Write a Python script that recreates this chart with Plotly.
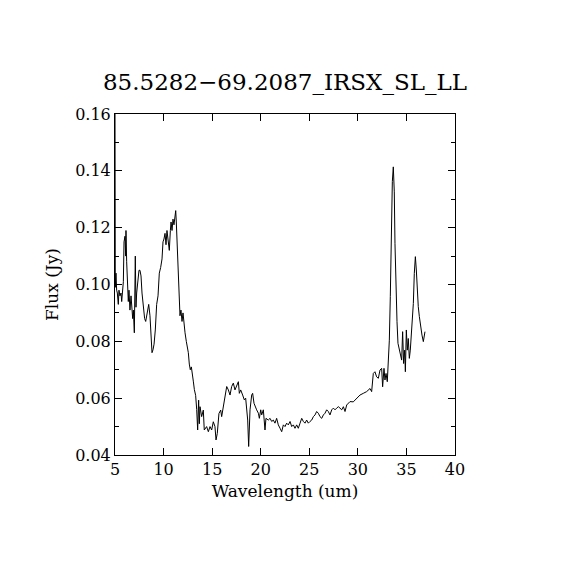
import plotly.graph_objects as go

wavelength = [
    5.00, 5.03, 5.07, 5.10, 5.17, 5.24, 5.34, 5.41, 5.51, 5.62, 5.69, 5.79, 5.86, 5.93,
    6.03, 6.10, 6.13, 6.20, 6.27, 6.37, 6.44, 6.54, 6.65, 6.72, 6.82, 6.89, 6.99, 7.09,
    7.16, 7.23, 7.33, 7.47, 7.57, 7.68, 7.78, 7.92, 8.05, 8.16, 8.26, 8.36, 8.47, 8.60,
    8.71, 8.81, 8.91, 9.02, 9.15, 9.29, 9.43, 9.56, 9.70, 9.84, 9.94, 10.04, 10.15, 10.25,
    10.35, 10.46, 10.59, 10.70, 10.77, 10.87, 10.97, 11.07, 11.18, 11.25, 11.31, 11.42,
    11.52, 11.59, 11.69, 11.79, 11.90, 12.00, 12.10, 12.21, 12.34, 12.45, 12.55, 12.65,
    12.75, 12.86, 12.96, 13.06, 13.17, 13.30, 13.41, 13.51, 13.61, 13.68, 13.75, 13.92,
    14.09, 14.19, 14.43, 14.61, 14.78, 14.95, 15.12, 15.29, 15.40, 15.53, 15.70, 15.88,
    15.98, 16.15, 16.32, 16.50, 16.67, 16.84, 17.01, 17.18, 17.35, 17.52, 17.70, 17.80,
    17.94, 18.14, 18.31, 18.45, 18.55, 18.66, 18.76, 18.90, 19.07, 19.17, 19.31, 19.45,
    19.58, 19.76, 19.86, 20.00, 20.10, 20.27, 20.44, 20.54, 20.78, 20.96, 21.13, 21.30,
    21.47, 21.64, 21.81, 21.99, 22.16, 22.33, 22.50, 22.67, 22.84, 23.02, 23.19, 23.36,
    23.53, 23.70, 23.87, 24.05, 24.22, 24.39, 24.56, 24.73, 24.90, 25.07, 25.25, 25.42,
    25.59, 25.76, 25.93, 26.10, 26.28, 26.45, 26.62, 26.79, 26.96, 27.13, 27.31, 27.48,
    27.65, 27.82, 27.99, 28.16, 28.34, 28.51, 28.68, 28.85, 29.02, 29.19, 29.53, 29.88,
    30.22, 30.56, 30.90, 31.25, 31.42, 31.59, 31.76, 31.93, 32.11, 32.28, 32.45, 32.55,
    32.69, 32.79, 32.90, 33.03, 33.14, 33.24, 33.34, 33.44, 33.55, 33.65, 33.75, 33.82,
    33.92, 34.03, 34.13, 34.27, 34.41, 34.51, 34.61, 34.71, 34.82, 34.89, 34.99, 35.09,
    35.19, 35.30, 35.40, 35.50, 35.61, 35.71, 35.81, 35.92, 36.02, 36.12, 36.22, 36.33,
    36.46, 36.60, 36.74, 36.91,
]

flux = [
    0.160, 0.099, 0.110, 0.104, 0.098, 0.097, 0.093, 0.098, 0.096, 0.097, 0.094, 0.098, 0.101, 0.115,
    0.117, 0.110, 0.119, 0.108, 0.099, 0.094, 0.098, 0.091, 0.096, 0.090, 0.088, 0.091, 0.083, 0.110,
    0.092, 0.097, 0.101, 0.105, 0.105, 0.103, 0.097, 0.092, 0.088, 0.087, 0.089, 0.092, 0.093, 0.089,
    0.083, 0.076, 0.077, 0.079, 0.084, 0.093, 0.096, 0.104, 0.106, 0.109, 0.115, 0.116, 0.118, 0.114,
    0.119, 0.116, 0.112, 0.119, 0.122, 0.119, 0.123, 0.121, 0.124, 0.126, 0.122, 0.111,
    0.103, 0.096, 0.089, 0.091, 0.087, 0.090, 0.085, 0.083, 0.080, 0.078, 0.076, 0.072,
    0.070, 0.071, 0.067, 0.066, 0.063, 0.061, 0.056, 0.0488, 0.0593, 0.051, 0.057, 0.0535,
    0.0558, 0.0488, 0.050, 0.0482, 0.050, 0.0488, 0.0517, 0.050, 0.0453, 0.0476, 0.0546, 0.0558,
    0.0535, 0.057, 0.0593, 0.0641, 0.0629, 0.0611, 0.0641, 0.0653, 0.0629, 0.0647, 0.0658, 0.0617,
    0.0629, 0.0611, 0.0594, 0.0600, 0.0570, 0.0523, 0.0430, 0.0559, 0.0611, 0.0617, 0.0582, 0.0565,
    0.0559, 0.0547, 0.0529, 0.0559, 0.0541, 0.0559, 0.0488, 0.0529, 0.0523, 0.0529, 0.0518, 0.0523,
    0.0512, 0.0529, 0.0506, 0.0494, 0.0482, 0.0506, 0.0500, 0.0512, 0.0506, 0.0518, 0.0500, 0.0506,
    0.0494, 0.0506, 0.0494, 0.0512, 0.0529, 0.0518, 0.0512, 0.0523, 0.0512, 0.0518, 0.0523, 0.0535,
    0.0541, 0.0553, 0.0547, 0.0535, 0.0529, 0.0541, 0.0547, 0.0559, 0.0553, 0.0541, 0.0559, 0.0565,
    0.0559, 0.0565, 0.0570, 0.0565, 0.0559, 0.0570, 0.0553, 0.0576, 0.0582, 0.0588, 0.0587, 0.0599,
    0.0611, 0.0617, 0.0623, 0.0634, 0.0623, 0.0687, 0.0693, 0.0675, 0.0670, 0.0699, 0.0705, 0.0640,
    0.0705, 0.0664, 0.0687, 0.0658, 0.0734, 0.0804, 0.0957, 0.1191, 0.1362, 0.1414, 0.1326, 0.1145,
    0.0992, 0.0869, 0.0793, 0.0769, 0.0746, 0.0734, 0.0834, 0.0722, 0.0769, 0.0693, 0.0840, 0.0769,
    0.0810, 0.0740, 0.0769, 0.0816, 0.0863, 0.0933, 0.1039, 0.1098, 0.1051, 0.0980, 0.0922, 0.0887,
    0.0851, 0.0822, 0.0799, 0.0834,
]

title_text = "85.5282\u221269.2087_IRSX_SL_LL"
x_label = "Wavelength (um)"
y_label = "Flux (Jy)"
x_ticks = [5, 10, 15, 20, 25, 30, 35, 40]
y_ticks = [0.04, 0.06, 0.08, 0.10, 0.12, 0.14, 0.16]

font_family = "DejaVu Serif"
W = 554
H = 554

fig = go.Figure(
    go.Scatter(
        x=wavelength, y=flux, mode="lines",
        line=dict(color="black", width=1), showlegend=False,
    )
)

fig.update_layout(
    width=W, height=H,
    margin=dict(l=107, r=107, t=106, b=107),
    paper_bgcolor="white", plot_bgcolor="white",
    font=dict(family=font_family, color="black", size=16),
    title=dict(
        text=title_text, x=0.5, xanchor="center",
        y=1 - 74 / H, yanchor="middle",
        font=dict(family=font_family, size=23, color="black"),
    ),
)

fig.update_xaxes(
    range=[5, 40], tickvals=x_ticks, ticktext=[str(t) for t in x_ticks],
    showline=True, linecolor="black", linewidth=1, mirror="ticks",
    ticks="inside", ticklen=7, tickwidth=1, tickcolor="black",
    showgrid=False, zeroline=False,
    tickfont=dict(size=16, family=font_family),
    title=dict(text=x_label, font=dict(size=17, family=font_family), standoff=6),
)

fig.update_yaxes(
    range=[0.04, 0.16], tickvals=y_ticks, ticktext=["%.2f" % t for t in y_ticks],
    showline=True, linecolor="black", linewidth=1, mirror="ticks",
    ticks="inside", ticklen=7, tickwidth=1, tickcolor="black",
    minor=dict(dtick=0.01, ticks="inside", ticklen=4, tickcolor="black", showgrid=False),
    showgrid=False, zeroline=False,
    tickfont=dict(size=16, family=font_family),
    title=dict(text=y_label, font=dict(size=17, family=font_family), standoff=12),
)

fig.write_html("out.html")
